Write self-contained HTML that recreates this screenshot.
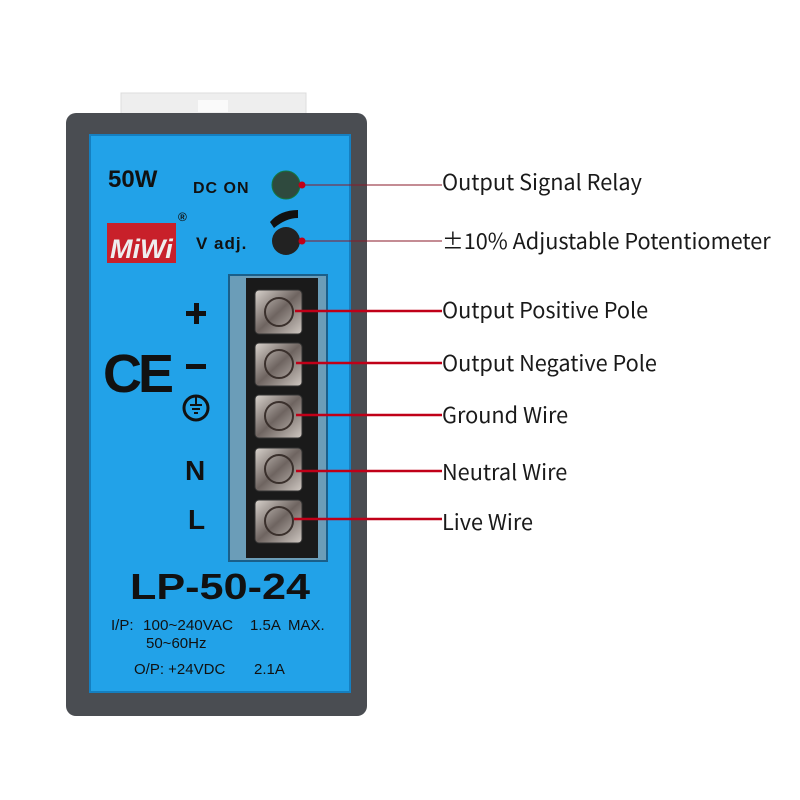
<!DOCTYPE html>
<html><head><meta charset="utf-8"><style>
body{margin:0;width:800px;height:800px;background:#fff;overflow:hidden;position:relative}
.lbl{position:absolute;left:442px;font-family:"Noto Sans CJK SC","Liberation Sans",sans-serif;font-size:21.7px;color:#1a1a1a;line-height:1;white-space:nowrap}
.t{font-family:"Liberation Sans",Arial,sans-serif;font-weight:bold;fill:#111}
</style></head><body>
<svg width="800" height="800" style="position:absolute;left:0;top:0">
<defs>
<linearGradient id="sc" x1="0" y1="0" x2="1" y2="1"><stop offset="0" stop-color="#d8d2cc"/><stop offset=".5" stop-color="#6e6460"/><stop offset="1" stop-color="#cfc8c2"/></linearGradient>
</defs>
<rect x="121" y="93" width="185" height="22" fill="#eeeeee" stroke="#ddd"/>
<rect x="198" y="100" width="30" height="12" fill="#fafafa"/>
<rect x="66" y="113" width="301" height="603" rx="10" fill="#4a4d52"/>
<rect x="90" y="135" width="260" height="557" fill="#22a2e8"/>
<rect x="90" y="135" width="260" height="557" fill="none" stroke="#157fc0" stroke-width="2"/>
<text x="108" y="187" class="t" font-size="24">50W</text>
<text x="193" y="193" class="t" font-size="16" letter-spacing="1">DC ON</text>
<text x="196" y="249" class="t" font-size="17" letter-spacing="1">V adj.</text>
<text x="178" y="221" class="t" font-size="12">®</text>
<rect x="107" y="223" width="69" height="40" fill="#c8202a"/>
<text x="110" y="258" font-family="Liberation Sans,sans-serif" font-weight="bold" font-style="italic" font-size="27" fill="#eee">MiWi</text>
<circle cx="286" cy="185" r="14" fill="#2f4a3e" stroke="#174" stroke-width="1"/>
<circle cx="286" cy="241" r="14" fill="#222"/>
<path d="M270 222 Q280 210 298 210 L298 218 Q286 218 274 228 Z" fill="#111"/>
<text x="103" y="392" class="t" font-size="54" font-family="Liberation Sans" letter-spacing="-4">CE</text>
<rect x="186" y="311" width="20" height="5" fill="#111"/><rect x="194" y="303" width="5" height="21" fill="#111"/>
<rect x="186" y="364" width="20" height="5" fill="#111"/>
<circle cx="196" cy="408" r="12" fill="none" stroke="#111" stroke-width="3"/>
<rect x="190" y="404" width="12" height="2" fill="#111"/><rect x="192" y="408" width="8" height="2" fill="#111"/><rect x="194" y="412" width="4" height="2" fill="#111"/><rect x="195" y="396" width="2" height="8" fill="#111"/>
<text x="185" y="480" class="t" font-size="28">N</text>
<text x="188" y="529" class="t" font-size="28">L</text>
<rect x="228" y="274" width="100" height="288" fill="#1a5f8a"/>
<rect x="230" y="276" width="96" height="284" fill="#8fb8cc" opacity=".7"/>
<rect x="246" y="278" width="72" height="280" fill="#1a1a1a"/>
<g fill="url(#sc)" stroke="#333">
<rect x="255" y="290" width="47" height="44" rx="4"/>
<rect x="255" y="343" width="47" height="43" rx="4"/>
<rect x="255" y="395" width="47" height="43" rx="4"/>
<rect x="255" y="448" width="47" height="43" rx="4"/>
<rect x="255" y="500" width="47" height="43" rx="4"/>
</g>
<g fill="none" stroke="#3a302c" stroke-width="2">
<circle cx="279" cy="312" r="14"/><circle cx="279" cy="364" r="14"/><circle cx="279" cy="416" r="14"/><circle cx="279" cy="469" r="14"/><circle cx="279" cy="521" r="14"/>
</g>
<text x="130" y="599" class="t" font-size="36" textLength="180" lengthAdjust="spacingAndGlyphs">LP-50-24</text>
<g font-family="Liberation Sans,sans-serif" font-size="15" fill="#111">
<text x="111" y="630">I/P:</text>
<text x="143" y="630" textLength="90" lengthAdjust="spacingAndGlyphs">100~240VAC</text>
<text x="250" y="630">1.5A</text>
<text x="288" y="630">MAX.</text>
<text x="146" y="648">50~60Hz</text>
<text x="134" y="674">O/P: +24VDC</text>
<text x="254" y="674">2.1A</text>
</g>
<g stroke="#8a1a2a" stroke-width="1">
<line x1="302" y1="185" x2="442" y2="185"/>
<line x1="302" y1="241" x2="442" y2="241"/>
</g>
<circle cx="302" cy="185" r="3.5" fill="#c00018"/>
<circle cx="302" cy="241" r="3.5" fill="#c00018"/>
<g stroke="#c00018" stroke-width="2.5">
<line x1="295" y1="311" x2="442" y2="311"/>
<line x1="296" y1="363" x2="442" y2="363"/>
<line x1="296" y1="415" x2="442" y2="415"/>
<line x1="296" y1="471" x2="442" y2="471"/>
<line x1="294" y1="519" x2="442" y2="519"/>
</g>
</svg>
<div class="lbl" style="top:171px">Output Signal Relay</div>
<div class="lbl" style="top:230px">±10% Adjustable Potentiometer</div>
<div class="lbl" style="top:299px">Output Positive Pole</div>
<div class="lbl" style="top:352px">Output Negative Pole</div>
<div class="lbl" style="top:404px">Ground Wire</div>
<div class="lbl" style="top:461px">Neutral Wire</div>
<div class="lbl" style="top:511px">Live Wire</div>
</body></html>
